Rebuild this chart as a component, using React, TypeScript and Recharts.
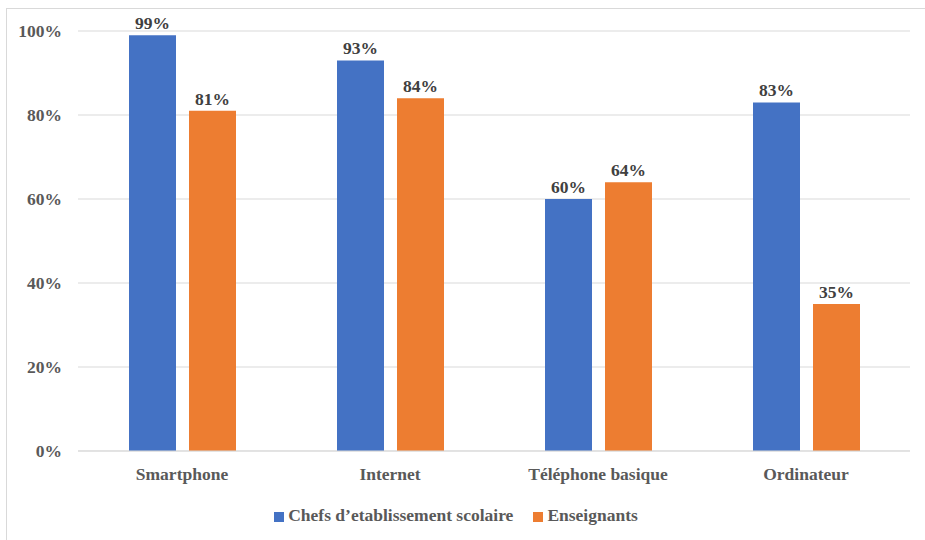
import React from "react";
import { BarChart, Bar, XAxis, YAxis, CartesianGrid, Legend, LabelList } from "recharts";

const categories = ["Smartphone", "Internet", "Téléphone basique", "Ordinateur"];
const chefs = [99, 93, 60, 83];
const enseignants = [81, 84, 64, 35];
const yTicks = [0, 20, 40, 60, 80, 100];

const data = categories.map((c, i) => ({ name: c, chefs: chefs[i], enseignants: enseignants[i] }));

const FONT = "'Liberation Serif', serif";

export default function App() {
  return (
    <div style={{ position: "relative", width: 925, height: 540, background: "#fff" }}>
      <style>{`body{margin:0}`}</style>
      <div style={{ position: "absolute", left: 6, top: 8, width: 940, height: 560, border: "1px solid #d9d9d9", boxSizing: "border-box" }} />
      <BarChart
        width={925}
        height={540}
        data={data}
        margin={{ top: 31, right: 15, left: 0, bottom: 14 }}
        barSize={47}
        barGap={13}
        style={{ position: "absolute", left: 0, top: 0 }}
      >
        <CartesianGrid vertical={false} stroke="#d9d9d9" />
        <XAxis
          dataKey="name"
          axisLine={{ stroke: "#d9d9d9" }}
          tickLine={false}
          height={54}
          tick={{ fill: "#595959", fontFamily: FONT, fontWeight: 700, fontSize: 17.5 }}
          tickMargin={11}
        />
        <YAxis
          width={78}
          domain={[0, 100]}
          ticks={yTicks}
          axisLine={false}
          tickLine={false}
          tickFormatter={(v) => `${v}%`}
          tick={{ fill: "#595959", fontFamily: FONT, fontWeight: 700, fontSize: 17.5 }}
          tickMargin={10}
        />
        <Legend
          verticalAlign="bottom"
          align="center"
          iconType="square"
          iconSize={10}
          wrapperStyle={{ fontFamily: FONT, fontWeight: 700, fontSize: 17.5, paddingLeft: 6 }}
          formatter={(value, _entry, index) => (
            <span style={{ color: "#595959", marginRight: index === 0 ? 10 : 0 }}>{value}</span>
          )}
        />
        <Bar dataKey="chefs" name="Chefs d’etablissement scolaire" fill="#4472C4" isAnimationActive={false}>
          <LabelList dataKey="chefs" position="top" offset={6} formatter={(v: number) => `${v}%`} style={{ fill: "#404040", fontFamily: FONT, fontWeight: 700, fontSize: 17.5 }} />
        </Bar>
        <Bar dataKey="enseignants" name="Enseignants" fill="#ED7D31" isAnimationActive={false}>
          <LabelList dataKey="enseignants" position="top" offset={6} formatter={(v: number) => `${v}%`} style={{ fill: "#404040", fontFamily: FONT, fontWeight: 700, fontSize: 17.5 }} />
        </Bar>
      </BarChart>
    </div>
  );
}
